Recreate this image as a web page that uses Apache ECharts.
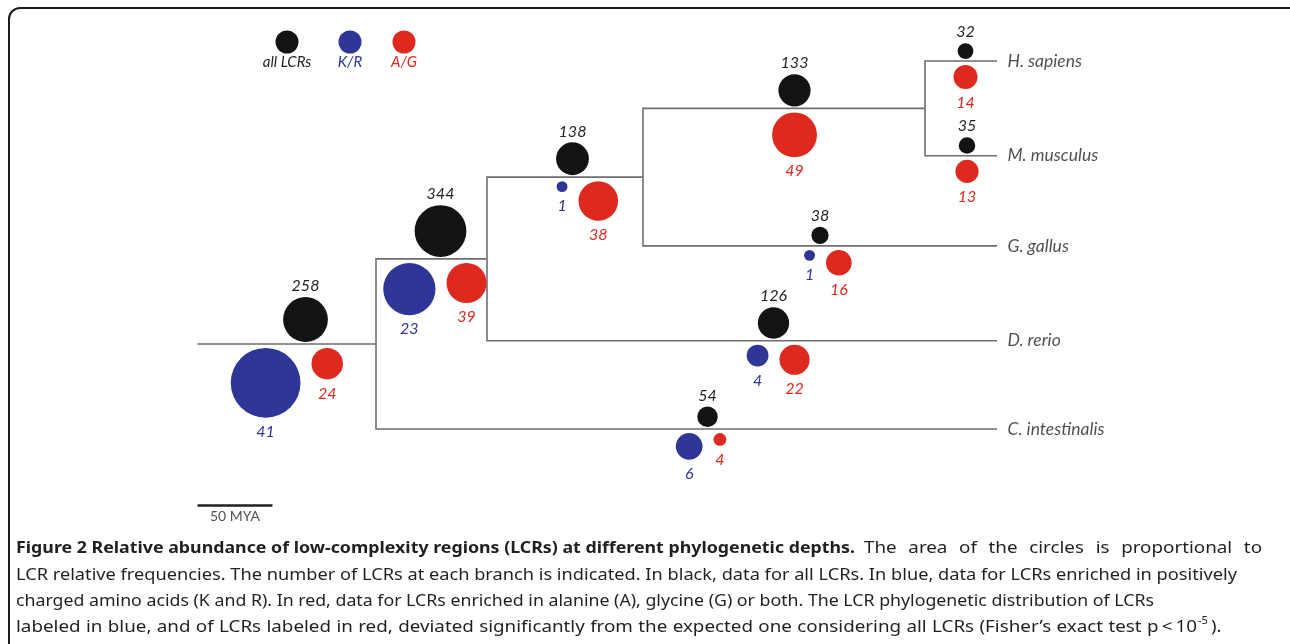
<!DOCTYPE html>
<html>
<head>
<meta charset="utf-8">
<script src="https://cdn.jsdelivr.net/npm/echarts@6/dist/echarts.min.js"></script>
<style>
    html, body { margin: 0; padding: 0; background: #fff; }
    #main { width: 1290px; height: 644px; }
</style>
</head>
<body>
<div id="main"></div>
<script>
// tree: node ids, parent, age of node (MYA)
var nodeIds    = ['A', 'B', 'C', 'D', 'hs', 'mm', 'gg', 'dr', 'ci'];
var nodeParent = [null, 'A', 'B', 'C', 'D', 'D', 'C', 'B', 'A'];
var nodeAge    = [414, 340, 236, 48, 0, 0, 0, 0, 0];
var rootTipAge = 533;

// leaf rows (top to bottom) and names
var leafIds   = ['hs', 'mm', 'gg', 'dr', 'ci'];
var leafRow   = [0, 1.03, 2.01, 3.04, 4];
var species   = ['H. sapiens', 'M. musculus', 'G. gallus', 'D. rerio', 'C. intestinalis'];

// LCR counts on the branch leading to each node (same order as nodeIds)
var allLCR  = [258, 344, 138, 133, 32, 35, 38, 126, 54];
var krLCR   = [41, 23, 1, null, null, null, 1, 4, 6];
var agLCR   = [24, 39, 38, 49, 14, 13, 16, 22, 4];
// where on the branch the circles sit (MYA)
var markAge = [461, 371, 283, 135, 21, 20, 118, 149, 193];

var scaleMYA = 50;
var scaleRow = 4.83;

var legendNames = ['all LCRs', 'K/R', 'A/G'];

var BLACK = '#121412', BLUE = '#2e3698', RED = '#de2a1e', INK = '#231f20';
var FONT = 'Lato';
var CAPFONT = 'Noto Sans';
var CAPSIZE = 16.8;

// rows of internal nodes = middle of the children
var rowOf = {};
leafIds.forEach(function (id, i) { rowOf[id] = leafRow[i]; });
function getRow(id) {
    if (rowOf[id] !== undefined) return rowOf[id];
    var kids = [];
    nodeParent.forEach(function (p, i) { if (p === id) kids.push(getRow(nodeIds[i])); });
    rowOf[id] = (Math.min.apply(null, kids) + Math.max.apply(null, kids)) / 2;
    return rowOf[id];
}
var ageOf = {};
nodeIds.forEach(function (id, i) { ageOf[id] = nodeAge[i]; getRow(id); });

// branches as elbows
var branches = [];
nodeIds.forEach(function (id, i) {
    var p = nodeParent[i];
    if (p === null) {
        branches.push({coords: [[rootTipAge, rowOf[id]], [ageOf[id], rowOf[id]]]});
    } else {
        branches.push({coords: [[ageOf[p], rowOf[p]], [ageOf[p], rowOf[id]], [ageOf[id], rowOf[id]]]});
    }
});

function total(arr) { return arr.reduce(function (s, v) { return s + (v || 0); }, 0); }
// circle area proportional to relative frequency
function diam(v, tot) { return 95 * Math.sqrt(v / tot); }

var totAll = total(allLCR), totKR = total(krLCR), totAG = total(agLCR);

var allData = [], krData = [], agData = [];
nodeIds.forEach(function (id, i) {
    var y = rowOf[id], x = markAge[i];
    var dA = diam(allLCR[i], totAll);
    allData.push({value: [x, y, allLCR[i]], symbolSize: dA, symbolOffset: [0, -(dA / 2 + 2)]});
    var hasKR = krLCR[i] !== null;
    if (hasKR) {
        var dK = diam(krLCR[i], totKR);
        krData.push({value: [x, y, krLCR[i]], symbolSize: dK, symbolOffset: [-(dK / 2 + 5), dK / 2 + 4]});
    }
    var dG = diam(agLCR[i], totAG);
    agData.push({value: [x, y, agLCR[i]], symbolSize: dG,
        symbolOffset: [hasKR ? dG / 2 + 6 : 0, dG / 2 + 4]});
});

function countSeries(name, data, color, pos) {
    return {
        name: name,
        type: 'scatter',
        clip: false,
        silent: true,
        data: data,
        itemStyle: {color: color, opacity: 1},
        label: {
            show: true, position: pos, distance: pos === 'top' ? 3 : 6,
            formatter: function (p) { return p.value[2]; },
            color: color === BLACK ? INK : color,
            fontFamily: FONT, fontStyle: 'italic', fontSize: 16
        }
    };
}

var legendX = [287, 350, 404];
var legendColors = [BLACK, BLUE, RED];
var graphics = [{
    type: 'rect', shape: {x: 9, y: 8, width: 1310, height: 680, r: 11},
    style: {fill: 'none', stroke: '#1a1a1a', lineWidth: 2}
}];
legendNames.forEach(function (n, i) {
    graphics.push({type: 'circle', shape: {cx: legendX[i], cy: 42, r: 11.5}, style: {fill: legendColors[i]}});
    graphics.push({type: 'text', x: legendX[i], y: 62, style: {
        text: n, fill: i === 0 ? INK : legendColors[i], font: 'italic 15px ' + FONT,
        align: 'center', verticalAlign: 'middle'}});
});

// caption: each piece is stretched a little / spaced out to span the same width as the original
var ctx = document.createElement('canvas').getContext('2d');
function measure(t, font) { ctx.font = font; return ctx.measureText(t).width; }

function placeWords(text, bold, x0, y, right) {
    var font = (bold ? 'bold ' : '') + CAPSIZE + 'px "' + CAPFONT + '"';
    var words = text.split(' ');
    var natural = measure(text, font);
    var target = right - x0;
    var s = Math.min(target / natural, 1.12);
    var extra = words.length > 1 ? (target - natural * s) / (words.length - 1) : 0;
    var sp = measure(' ', font);
    var cx = x0, end = x0;
    words.forEach(function (w) {
        graphics.push({type: 'text', x: cx, y: y, scaleX: s, style: {
            text: w, fill: INK, font: font, verticalAlign: 'middle'}});
        end = cx + measure(w, font) * s;
        cx = end + sp * s + extra;
    });
    return end;
}

placeWords('Figure 2 Relative abundance of low-complexity regions (LCRs) at different phylogenetic depths.', true, 16, 548, 855);
placeWords('The area of the circles is proportional to', false, 864, 548, 1262);
placeWords('LCR relative frequencies. The number of LCRs at each branch is indicated. In black, data for all LCRs. In blue, data for LCRs enriched in positively', false, 16, 575, 1237);
placeWords('charged amino acids (K and R). In red, data for LCRs enriched in alanine (A), glycine (G) or both. The LCR phylogenetic distribution of LCRs', false, 16, 601, 1154);
var endX = placeWords('labeled in blue, and of LCRs labeled in red, deviated significantly from the expected one considering all LCRs (Fisher\u2019s exact test p\u2009<\u200910', false, 16, 627, 1197);
graphics.push({type: 'text', x: endX + 1, y: 621, style: {text: '-5', fill: INK, font: '11px "' + CAPFONT + '"', verticalAlign: 'middle'}});
graphics.push({type: 'text', x: endX + 14, y: 627, scaleX: 1.1, style: {text: ').', fill: INK, font: CAPSIZE + 'px "' + CAPFONT + '"', verticalAlign: 'middle'}});

var option = {
    animation: false,
    backgroundColor: '#fff',
    grid: {left: 97, right: 293, top: 15, bottom: 123},
    xAxis: {type: 'value', min: 0, max: 600, inverse: true, show: false},
    yAxis: {type: 'value', min: -0.5, max: 5, inverse: true, show: false},
    graphic: graphics,
    series: [
        {
            name: 'tree', type: 'lines', coordinateSystem: 'cartesian2d', polyline: true,
            clip: false, silent: true, data: branches,
            lineStyle: {color: '#6d6e71', width: 1.6, opacity: 1}
        },
        {
            name: 'scale', type: 'lines', coordinateSystem: 'cartesian2d', clip: false, silent: true,
            data: [{coords: [[rootTipAge, scaleRow], [rootTipAge - scaleMYA, scaleRow]]}],
            lineStyle: {color: INK, width: 2.5, opacity: 1}
        },
        {
            name: 'scaleLabel', type: 'scatter', clip: false, silent: true, symbolSize: 1,
            itemStyle: {color: 'rgba(0,0,0,0)'},
            data: [[rootTipAge - scaleMYA / 2, scaleRow]],
            label: {show: true, position: 'bottom', distance: 4, formatter: scaleMYA + ' MYA',
                color: INK, fontFamily: FONT, fontSize: 14}
        },
        {
            name: 'species', type: 'scatter', clip: false, silent: true, symbolSize: 1,
            itemStyle: {color: 'rgba(0,0,0,0)'},
            data: leafIds.map(function (id, i) { return {value: [0, leafRow[i]], name: species[i]}; }),
            label: {show: true, position: 'right', distance: 10, formatter: '{b}',
                color: INK, fontFamily: FONT, fontStyle: 'italic', fontSize: 17.5}
        },
        countSeries('all LCRs', allData, BLACK, 'top'),
        countSeries('K/R', krData, BLUE, 'bottom'),
        countSeries('A/G', agData, RED, 'bottom')
    ]
};

var myChart = echarts.init(document.getElementById('main'));
myChart.setOption(option);
</script>
</body>
</html>
